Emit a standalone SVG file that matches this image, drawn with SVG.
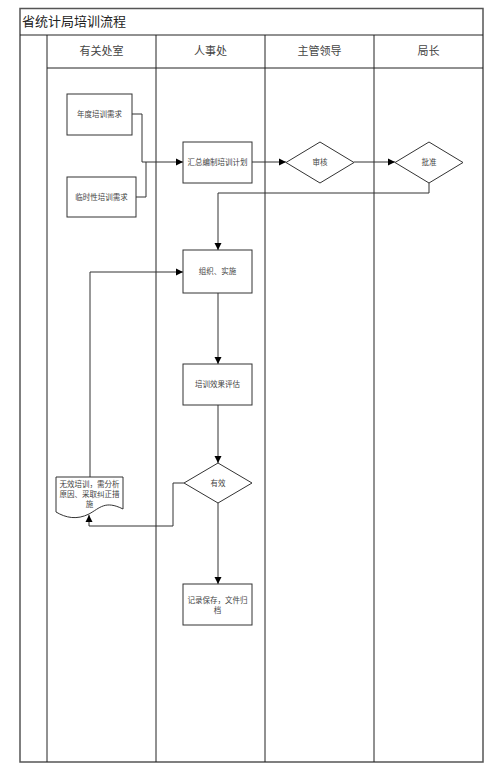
<svg xmlns="http://www.w3.org/2000/svg" width="500" height="774" viewBox="0 0 500 774">
<defs>
<style>
.frame{fill:none;stroke:#555;stroke-width:1.5}
.lane{stroke:#222;stroke-width:1}
.node{fill:#fff;stroke:#333;stroke-width:1}
.conn{fill:none;stroke:#333;stroke-width:1}
.t{font-family:"Noto Sans CJK SC","Noto Sans",sans-serif;fill:#444;font-size:7.5px;text-anchor:middle}
.h{font-family:"Noto Sans CJK SC","Noto Sans",sans-serif;fill:#444;font-size:11px;text-anchor:middle}
.title{font-family:"Noto Sans CJK SC","Noto Sans",sans-serif;fill:#222;font-size:13px}
</style>
<marker id="arr" markerWidth="8" markerHeight="8" refX="7" refY="4" orient="auto" markerUnits="userSpaceOnUse">
<path d="M0,0.5 L7,4 L0,7.5 Z" fill="#000"/>
</marker>
</defs>
<rect width="500" height="774" fill="#fff"/>
<g id="frame">
<rect class="frame" x="20" y="8.5" width="463" height="753.5"/>
<line class="lane" x1="20" y1="35" x2="483" y2="35"/>
<line class="lane" x1="47" y1="68" x2="483" y2="68"/>
<line class="lane" x1="47" y1="35" x2="47" y2="762"/>
<line class="lane" x1="156" y1="35" x2="156" y2="762"/>
<line class="lane" x1="265" y1="35" x2="265" y2="762"/>
<line class="lane" x1="374" y1="35" x2="374" y2="762"/>
<text class="title" x="22" y="26">省统计局培训流程</text>
<text class="h" x="101.5" y="55">有关处室</text>
<text class="h" x="210.5" y="55">人事处</text>
<text class="h" x="319.5" y="55">主管领导</text>
<text class="h" x="428.5" y="55">局长</text>
</g>
<g id="connectors">
<polyline class="conn" points="132,114 142,114 142,162"/>
<polyline class="conn" points="136,197 146,197 146,162"/>
<polyline class="conn" points="142,162 183,162" marker-end="url(#arr)"/>
<polyline class="conn" points="252,162 286,162" marker-end="url(#arr)"/>
<polyline class="conn" points="354,162 395,162" marker-end="url(#arr)"/>
<polyline class="conn" points="429,183 429,193 218,193 218,250" marker-end="url(#arr)"/>
<polyline class="conn" points="218,293 218,364" marker-end="url(#arr)"/>
<polyline class="conn" points="218,405 218,463" marker-end="url(#arr)"/>
<polyline class="conn" points="218,503 218,584" marker-end="url(#arr)"/>
<polyline class="conn" points="184,483 173,483 173,526 89,526 89,515" marker-end="url(#arr)"/>
<polyline class="conn" points="90,477 90,272 183,272" marker-end="url(#arr)"/>
</g>
<g id="n1">
<rect class="node" x="67" y="94" width="65" height="41"/>
<text class="t" x="99.5" y="117">年度培训需求</text>
</g>
<g id="n2">
<rect class="node" x="67" y="177" width="69" height="40"/>
<text class="t" x="101.5" y="200">临时性培训需求</text>
</g>
<g id="n3">
<rect class="node" x="183" y="142" width="69" height="41"/>
<text class="t" x="217.5" y="165">汇总编制培训计划</text>
</g>
<g id="n4">
<polygon class="node" points="286,162.5 320,142 354,162.5 320,183"/>
<text class="t" x="320" y="165">审核</text>
</g>
<g id="n5">
<polygon class="node" points="395,162.5 429,142 463,162.5 429,183"/>
<text class="t" x="429" y="165">批准</text>
</g>
<g id="n6">
<rect class="node" x="183" y="250" width="69" height="43"/>
<text class="t" x="217.5" y="274">组织、实施</text>
</g>
<g id="n7">
<rect class="node" x="183" y="364" width="69" height="41"/>
<text class="t" x="217.5" y="387">培训效果评估</text>
</g>
<g id="n8">
<polygon class="node" points="184,483 218,463 252,483 218,503"/>
<text class="t" x="218" y="486">有效</text>
</g>
<g id="n9">
<path class="node" d="M56,477 L123,477 L123,509 C105,500 100,508 89,514 C77,520 66,518 56,512 Z"/>
<text class="t" x="89.5" y="487">无效培训，需分析</text>
<text class="t" x="89.5" y="497">原因、采取纠正措</text>
<text class="t" x="89.5" y="507">施</text>
</g>
<g id="n10">
<rect class="node" x="183" y="584" width="69" height="41"/>
<text class="t" x="217.5" y="603">记录保存，文件归</text>
<text class="t" x="217.5" y="613">档</text>
</g>
</svg>
